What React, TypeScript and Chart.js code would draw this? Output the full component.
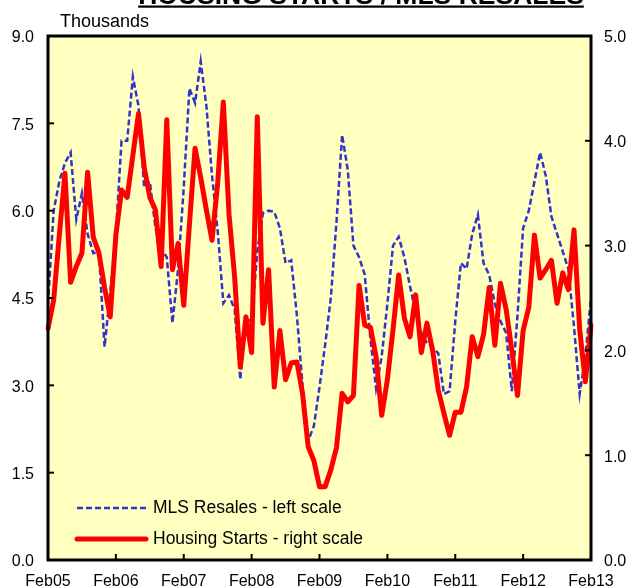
import React, { useEffect, useRef } from "react";
import { Chart, registerables } from "chart.js";

Chart.register(...registerables);

const FONT = "'Liberation Sans', Arial, Helvetica, sans-serif";

const titleText = "HOUSING STARTS / MLS RESALES";
const unitLabel = "Thousands";
const seriesNames = ["MLS Resales - left scale", "Housing Starts - right scale"];

const monthNames = ["Feb", "Mar", "Apr", "May", "Jun", "Jul", "Aug", "Sep", "Oct", "Nov", "Dec", "Jan"];
const yearCodes = ["05", "06", "07", "08", "09", "10", "11", "12", "13"];
const xTickLabels = ["Feb05", "Feb06", "Feb07", "Feb08", "Feb09", "Feb10", "Feb11", "Feb12", "Feb13"];
const leftTicks = [0, 1.5, 3, 4.5, 6, 7.5, 9];
const rightTicks = [0, 1, 2, 3, 4, 5];

// categories: Feb05 .. Feb13 monthly
const categories: string[] = [];
for (let y = 0; y < yearCodes.length; y++) {
  for (let m = 0; m < 12; m++) {
    if (y === yearCodes.length - 1 && m > 0) break;
    const yr = m === 11 ? yearCodes[y + 1] : yearCodes[y];
    categories.push(monthNames[m] + yr);
  }
}

// MLS resales, thousands (left scale)
const resales = [
  4.4, 6.0, 6.5, 6.82, 7.0, 5.85, 6.3, 5.6, 5.27, 5.3, 3.66, 4.6,
  5.6, 7.2, 7.2, 8.3, 7.8, 6.4, 6.5, 5.7, 5.35, 5.2, 4.07, 5.0,
  6.4, 8.1, 7.85, 8.56, 7.8, 6.6, 5.65, 4.41, 4.55, 4.3, 3.1, 4.15,
  4.1, 5.3, 5.96, 6.0, 5.98, 5.7, 5.1, 5.15, 4.2, 3.0, 2.05, 2.3,
  2.97, 3.7, 4.5, 5.8, 7.3, 6.7, 5.4, 5.2, 4.9, 3.8, 2.95, 3.5,
  4.4, 5.4, 5.55, 5.2, 4.7, 4.25, 3.9, 3.73, 3.65, 3.55, 2.85, 2.9,
  4.1, 5.1, 5.0, 5.6, 5.93, 5.1, 4.9, 4.4, 4.1, 3.9, 2.9, 4.2,
  5.7, 6.0, 6.5, 7.0, 6.6, 5.9, 5.6, 5.3, 5.0, 4.0, 2.85, 3.5,
  4.5,
];

// Housing starts, thousands (right scale)
const starts = [
  2.21, 2.48, 3.1, 3.69, 2.65, 2.8, 2.93, 3.7, 3.08, 2.93, 2.6, 2.32,
  3.1, 3.53, 3.46, 3.86, 4.26, 3.75, 3.46, 3.34, 2.8, 4.2, 2.77, 3.02,
  2.43, 3.2, 3.93, 3.65, 3.34, 3.05, 3.6, 4.37, 3.3, 2.7, 1.84, 2.32,
  1.98, 4.23, 2.26, 2.77, 1.65, 2.19, 1.72, 1.88, 1.89, 1.59, 1.08, 0.95,
  0.7, 0.7, 0.86, 1.07, 1.59, 1.51, 1.57, 2.62, 2.24, 2.22, 1.94, 1.38,
  1.72, 2.2, 2.72, 2.31, 2.13, 2.53, 1.98, 2.26, 2.0, 1.62, 1.4, 1.19,
  1.41, 1.41, 1.65, 2.13, 1.94, 2.15, 2.6, 2.05, 2.64, 2.39, 2.0, 1.57,
  2.19, 2.41, 3.1, 2.69, 2.77, 2.86, 2.45, 2.74, 2.58, 3.15, 2.2, 1.7,
  2.24,
];

const BLUE = "#3333CC";
const RED = "#FF0000";
const BG = "#FFFFC0";

const decorPlugin = {
  id: "decor",
  beforeDraw(chart: any) {
    const { ctx, chartArea: a } = chart;
    ctx.save();
    ctx.fillStyle = "#FFFFFF";
    ctx.fillRect(0, 0, chart.width, chart.height);
    ctx.fillStyle = BG;
    ctx.fillRect(a.left, a.top, a.right - a.left, a.bottom - a.top);
    ctx.restore();
  },
  afterDraw(chart: any) {
    const { ctx, chartArea: a, scales } = chart;
    ctx.save();
    // inward tick marks
    ctx.strokeStyle = "#000";
    ctx.lineWidth = 2;
    const tl = 6;
    leftTicks.forEach((v) => {
      const y = scales.y.getPixelForValue(v);
      ctx.beginPath();
      ctx.moveTo(a.left, y);
      ctx.lineTo(a.left + tl, y);
      ctx.stroke();
    });
    rightTicks.forEach((v) => {
      const y = scales.y1.getPixelForValue(v);
      ctx.beginPath();
      ctx.moveTo(a.right, y);
      ctx.lineTo(a.right - tl, y);
      ctx.stroke();
    });
    xTickLabels.forEach((lab) => {
      const x = scales.x.getPixelForValue(categories.indexOf(lab));
      ctx.beginPath();
      ctx.moveTo(x, a.bottom);
      ctx.lineTo(x, a.bottom - tl);
      ctx.stroke();
    });
    // frame
    ctx.lineWidth = 3;
    ctx.strokeRect(a.left, a.top, a.right - a.left, a.bottom - a.top);

    // title (clipped at top)
    ctx.fillStyle = "#000";
    ctx.font = `bold 26.5px ${FONT}`;
    ctx.textAlign = "center";
    ctx.textBaseline = "alphabetic";
    const tx = 361;
    ctx.fillText(titleText, tx, 3.5);
    const tw = ctx.measureText(titleText).width;
    ctx.fillRect(tx - tw / 2, 5.5, tw, 2.2);

    // unit label
    ctx.font = `18px ${FONT}`;
    ctx.textAlign = "left";
    ctx.fillText(unitLabel, 60, 27);

    // legend
    const lx0 = 77, lx1 = 146, txx = 153;
    const ly = [508, 539];
    ctx.lineCap = "butt";
    ctx.strokeStyle = BLUE;
    ctx.lineWidth = 2.5;
    ctx.setLineDash([6, 3]);
    ctx.beginPath();
    ctx.moveTo(lx0, ly[0]);
    ctx.lineTo(lx1, ly[0]);
    ctx.stroke();
    ctx.setLineDash([]);
    ctx.strokeStyle = RED;
    ctx.lineWidth = 5;
    ctx.lineCap = "round";
    ctx.beginPath();
    ctx.moveTo(lx0, ly[1]);
    ctx.lineTo(lx1, ly[1]);
    ctx.stroke();
    ctx.font = `17.5px ${FONT}`;
    ctx.fillStyle = "#000";
    ctx.textBaseline = "middle";
    ctx.fillText(seriesNames[0], txx, ly[0]);
    ctx.fillText(seriesNames[1], txx, ly[1]);
    ctx.restore();
  },
};

export default function App() {
  const ref = useRef<HTMLCanvasElement | null>(null);

  useEffect(() => {
    document.body.style.margin = "0";
    if (!ref.current) return;
    const tickFont = { family: FONT, size: 16 };
    const chart = new Chart(ref.current, {
      type: "line",
      data: {
        labels: categories,
        datasets: [
          {
            label: seriesNames[1],
            data: starts,
            yAxisID: "y1",
            borderColor: RED,
            backgroundColor: RED,
            borderWidth: 5,
            pointRadius: 0,
            tension: 0,
            borderJoinStyle: "round",
            borderCapStyle: "round",
            order: 0,
          },
          {
            label: seriesNames[0],
            data: resales,
            yAxisID: "y",
            borderColor: BLUE,
            backgroundColor: BLUE,
            borderWidth: 2.5,
            borderDash: [6, 3],
            pointRadius: 0,
            tension: 0,
            order: 1,
          },
        ],
      },
      options: {
        responsive: false,
        animation: false,
        events: [],
        layout: { padding: { top: 36, left: 0, right: 0, bottom: 0 } },
        plugins: {
          legend: { display: false },
          tooltip: { enabled: false },
          title: { display: false },
        },
        scales: {
          x: {
            type: "category",
            offset: false,
            grid: { display: false, drawTicks: false },
            border: { display: false },
            ticks: {
              autoSkip: false,
              maxRotation: 0,
              minRotation: 0,
              padding: 12,
              color: "#000",
              font: tickFont,
              callback: (_v: any, i: number) => (i % 12 === 0 ? xTickLabels[i / 12] : ""),
            },
            afterFit: (s: any) => {
              s.height = 27;
            },
          },
          y: {
            position: "left",
            min: 0,
            max: 9,
            grid: { display: false, drawTicks: false },
            border: { display: false },
            afterBuildTicks: (s: any) => {
              s.ticks = leftTicks.map((v) => ({ value: v }));
            },
            ticks: {
              padding: 14,
              labelOffset: 2,
              color: "#000",
              font: tickFont,
              callback: (v: any) => Number(v).toFixed(1),
            },
            afterFit: (s: any) => {
              s.width = 48;
            },
          },
          y1: {
            position: "right",
            min: 0,
            max: 5,
            grid: { display: false, drawTicks: false },
            border: { display: false },
            afterBuildTicks: (s: any) => {
              s.ticks = rightTicks.map((v) => ({ value: v }));
            },
            ticks: {
              padding: 13,
              labelOffset: 2,
              color: "#000",
              font: tickFont,
              callback: (v: any) => Number(v).toFixed(1),
            },
            afterFit: (s: any) => {
              s.width = 37;
            },
          },
        },
      },
      plugins: [decorPlugin],
    } as any);
    return () => chart.destroy();
  }, []);

  return (
    <div style={{ width: 628, height: 587 }}>
      <canvas ref={ref} width={628} height={587} style={{ display: "block" }} />
    </div>
  );
}
